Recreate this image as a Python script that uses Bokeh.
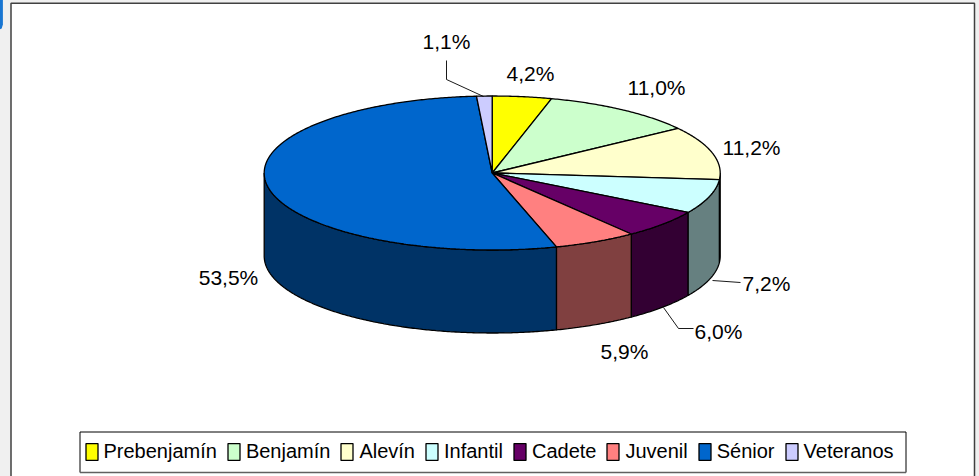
import math
from bokeh.embed import file_html
from bokeh.resources import INLINE
from bokeh.plotting import figure
from bokeh.models import Legend, LegendItem, Range1d
from bokeh.core.properties import value

categories = ["Prebenjamín", "Benjamín", "Alevín", "Infantil", "Cadete", "Juvenil", "Sénior", "Veteranos"]
percent = [4.2, 11.0, 11.2, 7.2, 6.0, 5.9, 53.5, 1.1]
top_colors = ["#FFFF00", "#CCFFCC", "#FFFFCC", "#CCFFFF", "#660066", "#FF8080", "#0066CC", "#CCCCFF"]
side_colors = ["#808000", "#668066", "#808066", "#668080", "#330033", "#804040", "#003366", "#666680"]
labels = ["4,2%", "11,0%", "11,2%", "7,2%", "6,0%", "5,9%", "53,5%", "1,1%"]

# layout (screen pixels)
W, H, M = 979, 476, 8
CX, CY, RX, RY, DEPTH = 491.7, 172.5, 228, 77, 83
label_x = [530, 656, 751, 766, 718, 624, 228, 446]
label_y = [73, 87, 147, 283, 331, 351, 277, 41]
leader_xs = [[446, 446, 483], [712, 740], [663, 678, 693]]
leader_ys = [[60, 79, 96], [280, 282], [307, 328, 328]]
FONT = "Liberation Sans"
SIZE = "21px"
LEGEND_SIZE = "20px"
BOX = (79.5, 905.5, 431.5, 472)

p = figure(width=W + M, height=H + M, output_backend="svg", toolbar_location=None,
           x_range=Range1d(-M, W), y_range=Range1d(H, -M), min_border=0,
           margin=(-M, 0, 0, -M), background_fill_color="#F0F0F0", border_fill_color="#F0F0F0",
           outline_line_color=None)
p.axis.visible = False
p.grid.visible = False

# panel and the corner of the neighbouring element
p.quad(left=[10.5], right=[974], top=[2.7], bottom=[H + 5], fill_color="#FFFFFF",
       line_color="#404040", line_width=1.5)
p.patch([-1, 2.4, 2.4, 1.2, -1], [-1, -1, 24, 28, 29], fill_color="#1976D2", line_color=None)

# legend frame with its darker lower edge
p.quad(left=[BOX[0]], right=[BOX[1]], top=[BOX[2]], bottom=[BOX[3]], fill_color="#FFFFFF",
       line_color="#000000", line_width=1)
p.line([BOX[0], BOX[1]], [BOX[3], BOX[3]], line_color="#606060", line_width=1.5)

def pt(deg, dy=0.0):
    a = math.radians(deg)
    return CX + RX * math.sin(a), CY - RY * math.cos(a) + dy

total = sum(percent)
edges = [0.0]
for v in percent:
    edges.append(edges[-1] + v / total * 360.0)

# visible wall of the cylinder: angles 90..270
for i, col in enumerate(side_colors):
    a0, a1 = max(edges[i], 90.0), min(edges[i + 1], 270.0)
    if a1 <= a0:
        continue
    n = max(2, int((a1 - a0) * 2))
    angs = [a0 + (a1 - a0) * k / n for k in range(n + 1)]
    up = [pt(a) for a in angs]
    dn = [pt(a, DEPTH) for a in reversed(angs)]
    xs = [q[0] for q in up + dn]
    ys = [q[1] for q in up + dn]
    p.patch(xs, ys, fill_color=col, line_color="#000000", line_width=1.3)

# top face
xs_all, ys_all = [], []
for i in range(len(percent)):
    a0, a1 = edges[i], edges[i + 1]
    n = max(2, int((a1 - a0) * 2))
    rim = [pt(a0 + (a1 - a0) * k / n) for k in range(n + 1)]
    xs_all.append([CX] + [q[0] for q in rim])
    ys_all.append([CY] + [q[1] for q in rim])
top = p.patches(xs_all, ys_all, fill_color=top_colors, line_color="#000000", line_width=1.3)

# leaders and labels
p.multi_line(leader_xs, leader_ys, line_color="#000000", line_width=0.9)
p.text(label_x, label_y, text=labels, text_font=value(FONT), text_font_size=SIZE,
       text_align="center", text_baseline="middle", text_color="#000000")

# legend
items = [LegendItem(label=value(c), renderers=[top], index=i) for i, c in enumerate(categories)]
legend = Legend(items=items, orientation="horizontal", location=(74.5 + M, H - 472),
                glyph_width=15, glyph_height=21, label_standoff=5, spacing=9, padding=9, margin=0,
                label_text_font=FONT, label_text_font_size=LEGEND_SIZE, label_text_color="#000000",
                border_line_color="#000000", border_line_alpha=0.0, background_fill_alpha=0.0)
p.add_layout(legend, "center")

open("out.html", "w").write(file_html(p, INLINE))
